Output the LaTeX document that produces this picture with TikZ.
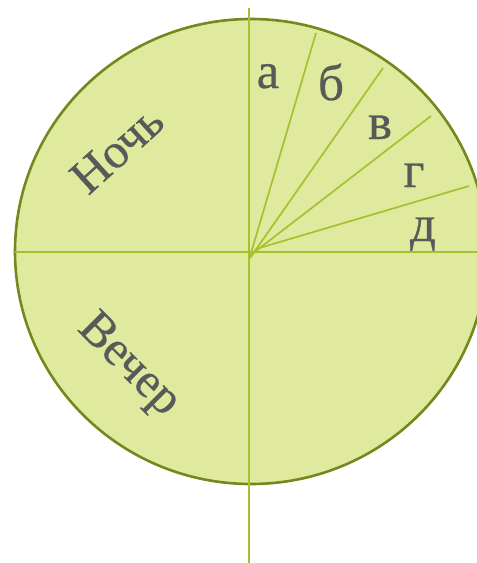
\documentclass[tikz,border=0pt]{standalone}
\usepackage{fontspec}
\setmainfont{Liberation Serif}
\newfontfamily\lblfont{Liberation Serif}[BoldFont=Liberation Serif, BoldFeatures={FakeBold=0.5}]
\definecolor{discfill}{HTML}{E0EA9E}
\definecolor{discedge}{HTML}{76881D}
\definecolor{rayline}{HTML}{A8BF2E}
\definecolor{labeltext}{HTML}{595959}
\tikzset{
  disc/.style={fill=discfill, draw=discedge, line width=2.6pt},
  axisline/.style={draw=rayline, line width=2pt},
  rayseg/.style={draw=rayline, line width=1.7pt},
  lbl/.style={text=labeltext, font=\lblfont\bfseries\fontsize{51}{51}\selectfont, inner sep=0pt},
  word/.style={text=labeltext, font=\lblfont\bfseries\fontsize{49}{49}\selectfont, inner sep=0pt},
}
\begin{document}
\begin{tikzpicture}[x=1pt,y=-1pt]
\useasboundingbox (0,0) rectangle (477,563);
\clip (0,0) rectangle (477,563);
\fill[white] (0,0) rectangle (477,563);
% disc
\draw[disc] (251,251.5) ellipse [x radius=236, y radius=232.5];
% axes
\coordinate (vtop) at (249,8);
\coordinate (vbot) at (249,563);
\coordinate (hleft) at (15,252);
\coordinate (hright) at (477,252);
\draw[axisline] (vtop) -- (vbot);
\draw[axisline] (hleft) -- (hright);
% rays
\coordinate (sa) at (249,260);
\coordinate (sb) at (250,258);
\coordinate (sc) at (252,254);
\coordinate (sd) at (256,249);
\coordinate (ea) at (316,33);
\coordinate (eb) at (383,68);
\coordinate (ec) at (431,116);
\coordinate (ed) at (469,186);
\draw[rayseg] (sa) -- (ea);
\draw[rayseg] (sb) -- (eb);
\draw[rayseg] (sc) -- (ec);
\draw[rayseg] (sd) -- (ed);
% labels
\node[lbl, anchor=base] (la) at (268,88) {а};
\node[lbl, anchor=base] (lb) at (331,100) {б};
\node[lbl, anchor=base] (lc) at (380,139) {в};
\node[lbl, anchor=base] (ld) at (414,187) {г};
\node[lbl, anchor=base] (le) at (423,241) {д};
\node[word, rotate=42] (night) at (117,149) {Ночь};
\node[word, rotate=-45] (evening) at (128,366) {Вечер};
\end{tikzpicture}
\end{document}
